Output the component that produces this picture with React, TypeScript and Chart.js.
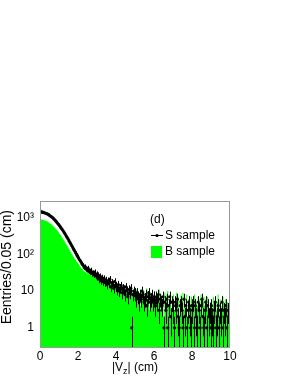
import React, { useEffect, useRef } from 'react';
import { Chart, registerables } from 'chart.js';

Chart.register(...registerables);

// ---- data ----
const BIN_WIDTH = 0.05;
const X_MIN = 0;
const X_MAX = 10;
const Y_MIN = 0.316;
const Y_MAX = 2820;

// S sample counts per 0.05 cm bin (200 bins, 0..10 cm)
const sCounts = [
  1450, 1420, 1400, 1380, 1350, 1330, 1290, 1260, 1220, 1180, 1120, 1080, 1030, 980, 920, 870, 810, 760, 700, 650,
  600, 555, 510, 470, 430, 390, 355, 320, 290, 262, 235, 210, 190, 170, 152, 136, 122, 110, 98, 88,
  80, 72, 66, 60, 54, 50, 44, 46, 40, 38, 42, 35, 33, 37, 30, 31, 28, 33, 26, 29,
  24, 27, 21, 25, 19, 23, 18, 22, 17, 20, 15, 19, 16, 21, 13, 17, 15, 12, 18, 14,
  13, 11, 15, 10, 12, 14, 9, 12, 11, 8, 13, 10, 7, 11, 9, 12, 1, 8, 10, 9,
  8, 6, 9, 7, 5, 8, 6, 10, 7, 5, 6, 8, 4, 7, 9, 5, 6, 8, 5, 7,
  6, 4, 7, 5, 8, 3, 6, 5, 4, 7, 1, 5, 3, 6, 1, 4, 7, 2, 5, 3,
  4, 1, 5, 3, 6, 2, 1, 4, 5, 3, 1, 6, 2, 4, 1, 3, 5, 2, 1, 4,
  3, 5, 1, 4, 2, 1, 5, 3, 1, 4, 6, 2, 1, 3, 5, 1, 4, 2, 3, 1,
  4, 2, 1, 3, 5, 1, 2, 4, 1, 3, 2, 5, 1, 3, 2, 4, 1, 3, 2, 3,
];

// B sample histogram contents per bin
const bCounts = [
  860, 900, 890, 880, 860, 850, 830, 810, 790, 760, 730, 700, 670, 640, 610, 575, 540, 505, 470, 435,
  400, 370, 340, 310, 283, 258, 234, 212, 192, 174, 157, 142, 128, 116, 104, 94, 85, 77, 70, 64,
  60, 55, 50, 46, 42, 40, 37, 35, 33, 36, 31, 30, 33, 28, 30, 27, 29, 26, 28, 25,
  24, 22, 26, 20, 23, 19, 21, 18, 22, 17, 20, 16, 19, 15, 18, 16, 14, 17, 13, 15,
  14, 12, 13, 11, 15, 10, 12, 11, 9, 13, 10, 12, 9, 11, 8, 10, 12, 9, 8, 10,
  9, 6, 11, 8, 5, 9, 4, 11, 8, 6, 10, 5, 8, 12, 6, 8, 3, 9, 7, 8,
  7, 10, 4, 8, 5, 9, 11, 3, 8, 6, 7, 2, 9, 5, 8, 10, 4, 6, 8, 3,
  6, 8, 3, 5, 9, 4, 7, 2, 6, 8, 5, 9, 3, 7, 4, 8, 2, 6, 7, 4,
  7, 3, 6, 8, 2, 5, 4, 7, 6, 3, 8, 2, 5, 7, 4, 6, 3, 7, 5, 2,
  5, 6, 2, 7, 4, 6, 3, 5, 8, 2, 6, 4, 3, 7, 5, 2, 6, 4, 5, 3,
];

const xTickValues = [0, 2, 4, 6, 8, 10];
const yTickValues = [1, 10, 100, 1000];
const yTickLabels = ['1', '10', '10²', '10³'];

const yTitle = 'Eentries/0.05 (cm)';
const xTitleMain = '|V';
const xTitleSub = 'z';
const xTitleEnd = '| (cm)';
const panelTag = '(d)';
const legendS = 'S sample';
const legendB = 'B sample';

const GREEN = '#00ff00';
const FONT = '"Liberation Sans", Arial, Helvetica, sans-serif';

export default function App() {
  const ref = useRef<HTMLCanvasElement | null>(null);

  useEffect(() => {
    if (!ref.current) return;

    const bPoints = bCounts.map((v, i) => ({ x: X_MIN + i * BIN_WIDTH, y: v }));
    bPoints.push({ x: X_MAX, y: bCounts[bCounts.length - 1] });

    const sPoints = sCounts
      .map((v, i) => ({ x: X_MIN + (i + 0.5) * BIN_WIDTH, y: v }))
      .filter((p) => p.y > 0);

    const decorations = {
      id: 'decorations',
      afterDatasetsDraw(chart: any) {
        const { ctx, chartArea: a, scales } = chart;
        const xs = scales.x;
        const ys = scales.y;
        ctx.save();
        ctx.beginPath();
        ctx.rect(a.left, a.top, a.right - a.left, a.bottom - a.top);
        ctx.clip();
        ctx.strokeStyle = '#000';
        ctx.lineWidth = 1;
        sCounts.forEach((v, i) => {
          if (v <= 0) return;
          const c = X_MIN + (i + 0.5) * BIN_WIDTH;
          const err = Math.sqrt(v);
          const px = Math.round(xs.getPixelForValue(c)) + 0.5;
          const py = ys.getPixelForValue(v);
          const lo = v - err;
          const pyLo = lo > Y_MIN ? ys.getPixelForValue(lo) : a.bottom;
          const pyHi = ys.getPixelForValue(v + err);
          ctx.beginPath();
          ctx.moveTo(px, pyHi);
          ctx.lineTo(px, pyLo);
          const x0 = xs.getPixelForValue(c - BIN_WIDTH / 2);
          const x1 = xs.getPixelForValue(c + BIN_WIDTH / 2);
          const yy = Math.round(py) + 0.5;
          ctx.moveTo(x0, yy);
          ctx.lineTo(x1, yy);
          ctx.stroke();
        });
        ctx.restore();

        // frame
        ctx.save();
        ctx.strokeStyle = '#999';
        ctx.lineWidth = 1;
        ctx.strokeRect(a.left + 0.5, a.top + 0.5, a.right - a.left - 1, a.bottom - a.top);
        ctx.restore();

        // legend
        ctx.save();
        ctx.fillStyle = '#000';
        ctx.font = `12px ${FONT}`;
        ctx.textBaseline = 'middle';
        ctx.textAlign = 'left';
        ctx.fillText(panelTag, 150, 220);
        ctx.fillText(legendS, 165, 236);
        ctx.fillText(legendB, 165, 252);
        ctx.beginPath();
        ctx.moveTo(151, 235.5);
        ctx.lineTo(163, 235.5);
        ctx.stroke();
        ctx.beginPath();
        ctx.arc(157, 235.5, 1.6, 0, Math.PI * 2);
        ctx.fill();
        ctx.fillStyle = GREEN;
        ctx.fillRect(151, 246, 11, 12);

        // x title with subscript
        ctx.fillStyle = '#000';
        ctx.font = `12px ${FONT}`;
        const w1 = ctx.measureText(xTitleMain).width;
        const w3 = ctx.measureText(xTitleEnd).width;
        ctx.font = `9px ${FONT}`;
        const w2 = ctx.measureText(xTitleSub).width;
        const total = w1 + w2 + w3;
        const cx = (a.left + a.right) / 2;
        let tx = cx - total / 2;
        ctx.textBaseline = 'alphabetic';
        ctx.font = `12px ${FONT}`;
        ctx.fillText(xTitleMain, tx, 371);
        tx += w1;
        ctx.font = `9px ${FONT}`;
        ctx.fillText(xTitleSub, tx, 374);
        tx += w2;
        ctx.font = `12px ${FONT}`;
        ctx.fillText(xTitleEnd, tx, 371);

        // y title rotated
        ctx.translate(7, 210);
        ctx.rotate(-Math.PI / 2);
        ctx.font = `14px ${FONT}`;
        ctx.textAlign = 'right';
        ctx.textBaseline = 'middle';
        ctx.fillText(yTitle, 0, 0);
        ctx.restore();
      },
    };

    const chart = new Chart(ref.current, {
      type: 'line',
      data: {
        datasets: [
          {
            label: legendS,
            data: sPoints,
            showLine: false,
            pointRadius: 1.6,
            pointBackgroundColor: '#000',
            pointBorderWidth: 0,
            order: 1,
          },
          {
            label: legendB,
            data: bPoints,
            stepped: 'after',
            fill: 'start',
            backgroundColor: GREEN,
            borderWidth: 0,
            borderColor: GREEN,
            pointRadius: 0,
            order: 2,
          },
        ],
      },
      options: {
        animation: false,
        responsive: false,
        events: [],
        layout: { padding: { left: 0, top: 201, right: 61, bottom: 0 } },
        plugins: { legend: { display: false }, tooltip: { enabled: false } },
        scales: {
          x: {
            type: 'linear',
            min: X_MIN,
            max: X_MAX,
            grid: { display: false, drawTicks: false },
            border: { display: false },
            afterBuildTicks: (s: any) => {
              s.ticks = xTickValues.map((v) => ({ value: v }));
            },
            afterFit: (s: any) => {
              s.height = 29;
            },
            ticks: {
              autoSkip: false,
              maxRotation: 0,
              padding: 2,
              color: '#000',
              font: { family: FONT, size: 12 },
              callback: (v: any) => String(v),
            },
          },
          y: {
            type: 'logarithmic',
            min: Y_MIN,
            max: Y_MAX,
            grid: { display: false, drawTicks: false },
            border: { display: false },
            afterBuildTicks: (s: any) => {
              s.ticks = yTickValues.map((v) => ({ value: v }));
            },
            afterFit: (s: any) => {
              s.width = 40;
            },
            ticks: {
              autoSkip: false,
              padding: 6,
              color: '#000',
              font: { family: FONT, size: 12 },
              callback: (v: any) => {
                const k = yTickValues.indexOf(Number(v));
                return k >= 0 ? yTickLabels[k] : '';
              },
            },
          },
        },
      },
      plugins: [decorations],
    });
    return () => chart.destroy();
  }, []);

  return (
    <div style={{ position: 'absolute', left: 0, top: 0, width: 291, height: 376, background: '#fff' }}>
      <canvas ref={ref} width={291} height={376} style={{ display: 'block', width: 291, height: 376 }} />
    </div>
  );
}
